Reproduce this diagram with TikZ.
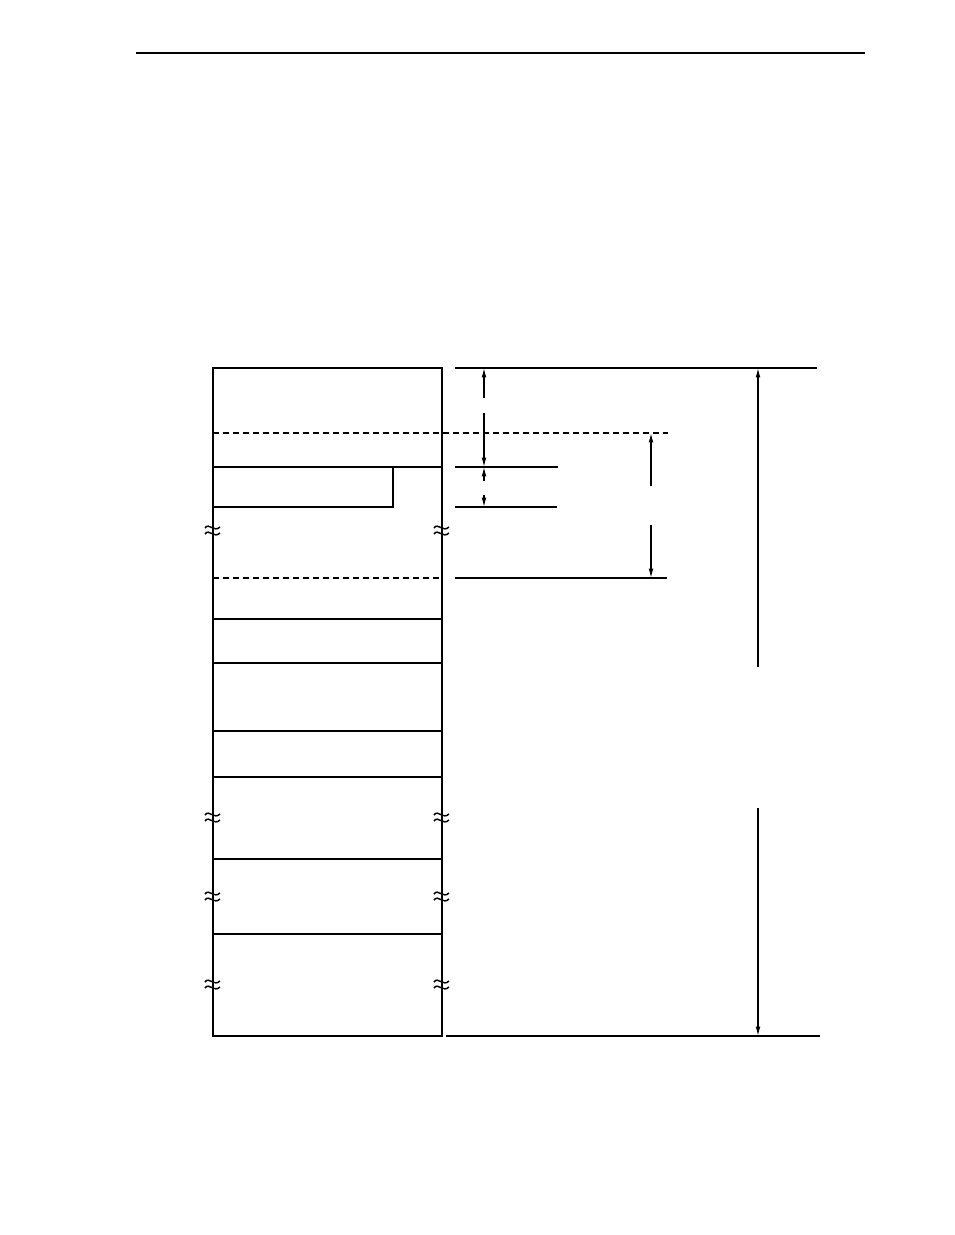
\documentclass[tikz,border=0pt]{standalone}
\usepackage{tikz}
\usetikzlibrary{arrows.meta}

\begin{document}
\begin{tikzpicture}[x=0.75pt, y=-0.75pt, >={Latex[length=7pt, width=3.5pt]},
    thinline/.style={line width=0.9pt},
    boxline/.style={line width=2pt},
    dashline/.style={line width=0.9pt, dash pattern=on 4.5pt off 3pt},
    brk/.style={line width=1.1pt}]

  \useasboundingbox (0, 0) rectangle (954, 1235);

  % header rule
  \draw[thinline] (136, 53) -- (865, 53);

  % partitions of the map
  \foreach \y in {467, 619, 663, 731, 777, 859, 934} {
    \draw[thinline] (213, \y) -- (442, \y);
  }
  \draw[thinline] (393, 467) -- (393, 507) -- (213, 507);
  \draw[dashline] (213, 433) -- (668, 433);
  \draw[dashline] (213, 578) -- (442, 578);

  % outer frame
  \draw[boxline] (213, 368) rectangle (442, 1036);

  % break marks on both sides
  \foreach \y in {531, 818, 897, 985} {
    \foreach \x in {213, 442} {
      \draw[brk] (\x - 8, \y - 3) .. controls (\x - 4, \y - 9) and (\x + 1, \y + 2) .. (\x + 7, \y - 4);
      \draw[brk] (\x - 8, \y + 3) .. controls (\x - 4, \y - 3) and (\x + 1, \y + 8) .. (\x + 7, \y + 2);
    }
  }

  % extension lines
  \draw[thinline] (455, 368) -- (817, 368);
  \draw[thinline] (455, 467) -- (558, 467);
  \draw[thinline] (455, 507) -- (557, 507);
  \draw[thinline] (455, 578) -- (667, 578);
  \draw[thinline] (446, 1036) -- (820, 1036);

  % dimension arrows
  \draw[thinline, ->] (484, 398) -- (484, 368);
  \draw[thinline, ->] (484, 413) -- (484, 467);
  \draw[thinline, ->] (484, 481) -- (484, 467);
  \draw[thinline, ->] (484, 495) -- (484, 507);

  \draw[thinline, ->] (651, 486) -- (651, 433);
  \draw[thinline, ->] (651, 525) -- (651, 578);

  \draw[thinline, ->] (758, 667) -- (758, 368);
  \draw[thinline, ->] (758, 808) -- (758, 1036);

\end{tikzpicture}
\end{document}
